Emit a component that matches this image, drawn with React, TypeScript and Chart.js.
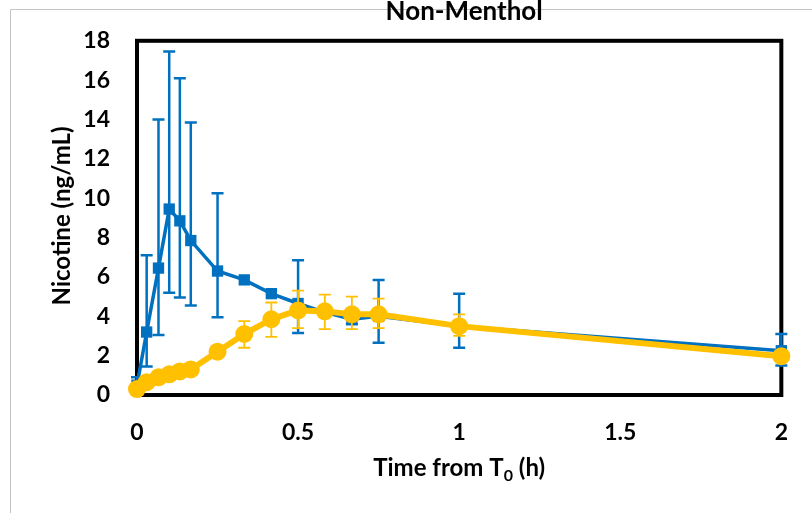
import React, { useEffect, useRef } from 'react';
import { Chart, registerables } from 'chart.js';
Chart.register(...registerables);

const chartTitle = 'Non-Menthol';
const yAxisTitle = 'Nicotine (ng/mL)';
const xAxisTitleMain = 'Time from T';
const xAxisTitleSub = '0';
const xAxisTitleEnd = ' (h)';

const timeHours = [0, 0.03, 0.0667, 0.1, 0.133, 0.167, 0.25, 0.333, 0.417, 0.5, 0.583, 0.667, 0.75, 1, 2];

const blueMean = [0.5, 3.2, 6.45, 9.45, 8.85, 7.85, 6.3, 5.85, 5.15, 4.65, 4.2, 3.85, 4.0, 3.5, 2.25];
const blueUpper = [0.9, 7.1, 14.0, 17.45, 16.1, 13.85, 10.25, null, null, 6.85, null, 4.1, 5.85, 5.15, 3.1];
const blueLower = [0.1, 1.45, 3.05, 5.2, 4.95, 4.55, 3.95, null, null, 3.15, null, 3.6, 2.65, 2.4, 1.5];

const yellowMean = [0.3, 0.65, 0.9, 1.05, 1.2, 1.3, 2.2, 3.1, 3.85, 4.3, 4.25, 4.1, 4.1, 3.5, 1.97];
const yellowUpper = [null, null, null, null, null, null, null, 3.75, 4.7, 5.3, 5.1, 5.0, 4.9, 4.1, null];
const yellowLower = [null, null, null, null, null, null, null, 2.4, 2.95, 3.4, 3.35, 3.35, 3.4, 3.0, null];

const yTicksMax = 18;
const yTickStep = 2;
const xTicksMax = 2;
const xTickStep = 0.5;

const BLUE = '#0070C0';
const YELLOW = '#FFC000';
const FONT = 'Lato, "Open Sans", sans-serif';

const errorBarPlugin = {
  id: 'errorBars',
  beforeDatasetDraw(chart: any, args: any) {
    const ds: any = chart.data.datasets[args.index];
    const eb = ds.errorBars;
    if (!eb) return;
    const { ctx, scales } = chart;
    const x = scales.x;
    const y = scales.y;
    ctx.save();
    ctx.strokeStyle = eb.color;
    ctx.lineWidth = eb.width;
    ds.data.forEach((pt: any, i: number) => {
      const px = x.getPixelForValue(pt.x);
      const pm = y.getPixelForValue(pt.y);
      const u = eb.upper[i];
      const l = eb.lower[i];
      const cap = eb.cap;
      if (u != null) {
        const pu = y.getPixelForValue(u);
        ctx.beginPath();
        ctx.moveTo(px, pm);
        ctx.lineTo(px, pu);
        ctx.moveTo(px - cap, pu);
        ctx.lineTo(px + cap, pu);
        ctx.stroke();
      }
      if (l != null) {
        const pl = y.getPixelForValue(l);
        ctx.beginPath();
        ctx.moveTo(px, pm);
        ctx.lineTo(px, pl);
        ctx.moveTo(px - cap, pl);
        ctx.lineTo(px + cap, pl);
        ctx.stroke();
      }
    });
    ctx.restore();
  },
};

const decorPlugin = {
  id: 'decor',
  beforeDraw(chart: any) {
    const { ctx } = chart;
    ctx.save();
    ctx.fillStyle = '#ffffff';
    ctx.fillRect(0, 0, chart.width, chart.height);
    ctx.strokeStyle = '#c4c4c4';
    ctx.lineWidth = 1;
    ctx.beginPath();
    ctx.moveTo(10.5, chart.height);
    ctx.lineTo(10.5, 9.5);
    ctx.lineTo(chart.width, 9.5);
    ctx.stroke();
    ctx.restore();
  },
  beforeDatasetsDraw(chart: any) {
    const { ctx, chartArea: a } = chart;
    ctx.save();
    ctx.strokeStyle = '#000000';
    ctx.lineWidth = 4;
    ctx.strokeRect(a.left, a.top, a.right - a.left, a.bottom - a.top);
    ctx.restore();
  },
  afterDraw(chart: any) {
    const { ctx, chartArea: a } = chart;
    const cx = (a.left + a.right) / 2;
    ctx.save();
    ctx.fillStyle = '#000000';
    // title
    ctx.font = `bold 26px ${FONT}`;
    ctx.textAlign = 'center';
    ctx.textBaseline = 'alphabetic';
    ctx.fillText(chartTitle, cx + 5, 20);
    // y axis title
    ctx.save();
    ctx.translate(62, (a.top + a.bottom) / 2 - 2);
    ctx.rotate(-Math.PI / 2);
    ctx.font = `bold 24px ${FONT}`;
    ctx.textAlign = 'center';
    ctx.textBaseline = 'middle';
    ctx.fillText(yAxisTitle, 0, 0);
    ctx.restore();
    // x axis title with subscript
    const mainFont = `bold 24px ${FONT}`;
    const subFont = `bold 16px ${FONT}`;
    ctx.font = mainFont;
    const w1 = ctx.measureText(xAxisTitleMain).width;
    const w3 = ctx.measureText(xAxisTitleEnd).width;
    ctx.font = subFont;
    const w2 = ctx.measureText(xAxisTitleSub).width;
    const total = w1 + w2 + w3;
    let sx = cx - total / 2;
    const by = 476;
    ctx.textAlign = 'left';
    ctx.textBaseline = 'alphabetic';
    ctx.font = mainFont;
    ctx.fillText(xAxisTitleMain, sx, by);
    sx += w1;
    ctx.font = subFont;
    ctx.fillText(xAxisTitleSub, sx, by + 5);
    sx += w2;
    ctx.font = mainFont;
    ctx.fillText(xAxisTitleEnd, sx, by);
    ctx.restore();
  },
};

export default function App() {
  const ref = useRef<HTMLCanvasElement>(null);
  useEffect(() => {
    if (!ref.current) return;
    const chart = new Chart(ref.current, {
      type: 'line',
      data: {
        datasets: [
          {
            label: 'Yellow',
            data: timeHours.map((t, i) => ({ x: t, y: yellowMean[i] })),
            borderColor: YELLOW,
            backgroundColor: YELLOW,
            borderWidth: 6,
            pointStyle: 'circle',
            pointRadius: 9,
            pointBorderWidth: 0,
            clip: false,
            order: 0,
            errorBars: { upper: yellowUpper, lower: yellowLower, color: YELLOW, width: 1.8, cap: 6 },
          } as any,
          {
            label: 'Blue',
            data: timeHours.map((t, i) => ({ x: t, y: blueMean[i] })),
            borderColor: BLUE,
            backgroundColor: BLUE,
            borderWidth: 3.5,
            pointStyle: 'rect',
            pointRadius: 8,
            pointBorderWidth: 0,
            clip: false,
            order: 1,
            errorBars: { upper: blueUpper, lower: blueLower, color: BLUE, width: 2.5, cap: 6 },
          } as any,
        ],
      },
      options: {
        animation: false,
        responsive: false,
        maintainAspectRatio: false,
        layout: { padding: { top: 39, right: 26, left: 0, bottom: 0 } },
        plugins: {
          legend: { display: false },
          tooltip: { enabled: false },
          title: { display: false },
        },
        elements: { line: { tension: 0 } },
        scales: {
          x: {
            type: 'linear',
            min: 0,
            max: xTicksMax,
            grid: { display: false, drawTicks: false },
            border: { display: false },
            ticks: {
              stepSize: xTickStep,
              padding: 24,
              color: '#000',
              font: { family: FONT, size: 23, weight: 'bold' },
              maxRotation: 0,
              callback: (v: any) => String(Number(v)),
            },
            afterFit: (s: any) => {
              s.height = 118;
            },
          },
          y: {
            type: 'linear',
            min: 0,
            max: yTicksMax,
            grid: { display: false, drawTicks: false },
            border: { display: false },
            ticks: {
              stepSize: yTickStep,
              padding: 27,
              color: '#000',
              font: { family: FONT, size: 23, weight: 'bold' },
            },
            afterFit: (s: any) => {
              s.width = 137;
            },
          },
        },
      } as any,
      plugins: [decorPlugin, errorBarPlugin],
    });
    return () => chart.destroy();
  }, []);
  return (
    <div style={{ position: 'absolute', left: 0, top: 0, width: 812, height: 513 }}>
      <canvas ref={ref} width={812} height={513} style={{ width: 812, height: 513, display: 'block' }} />
    </div>
  );
}
